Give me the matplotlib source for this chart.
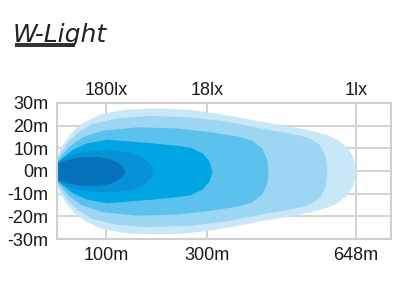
import numpy as np
import matplotlib
matplotlib.use("Agg")
import matplotlib.pyplot as plt
from matplotlib.patches import Rectangle

plt.rcParams['font.family'] = ['Liberation Sans', 'DejaVu Sans']

# distances along the beam (chart units) and half widths in metres
tick_pos = [49, 150, 299]
bottom_labels = ['100m', '300m', '648m']
top_labels = ['180lx', '18lx', '1lx']
y_ticks = [30, 20, 10, 0, -10, -20, -30]

# isolux outlines, outer -> inner
l1_x = [0, 3, 8, 16, 28, 45, 70, 100, 130, 150, 180, 203, 230, 253, 270, 280, 290, 296, 299]
l1_h = [6.5, 10, 13.5, 18, 22, 25.5, 27.3, 27.8, 27.3, 26.2, 24, 22, 20, 18, 16, 14, 10.5, 6, 0]
l2_x = [0, 3, 10, 20, 35, 60, 90, 130, 170, 203, 230, 250, 262, 268, 270]
l2_h = [5.5, 8, 12.5, 17, 21, 23.5, 24.5, 24, 22, 19, 17, 15, 12, 7, 0]
l3_x = [0, 4, 12, 25, 45, 80, 120, 150, 180, 195, 205, 210, 211]
l3_h = [4.5, 7, 11, 15, 18, 19.5, 19, 17.5, 15.5, 13.5, 10, 5, 0]
l4_x = [0, 5, 15, 30, 50, 93, 120, 133, 145, 152, 155]
l4_h = [4, 6, 9.5, 12.5, 14, 12.5, 11.3, 10.5, 8, 4.5, 0]
l5_x = [0, 5, 15, 35, 55, 75, 88, 94, 96]
l5_h = [3.8, 5.5, 7.5, 9, 9.3, 8.3, 5.5, 2.5, 0]
l6_x = [0, 4, 12, 22, 40, 52, 60, 65, 68]
l6_h = [3.5, 4.2, 5.3, 6.2, 6.4, 5.5, 4, 2.5, 0]

layers = [(l1_x, l1_h, '#c8e7f8'), (l2_x, l2_h, '#9dd6f3'), (l3_x, l3_h, '#5cc1ed'),
          (l4_x, l4_h, '#00a6e4'), (l5_x, l5_h, '#0792d5'), (l6_x, l6_h, '#0672b9')]

fig = plt.figure(figsize=(4, 3), dpi=100)
ax = fig.add_axes([57/400, 1-239/300, 334/400, 136/300])

ax.set_xlim(0, 334)
ax.set_ylim(-30, 30)

for xs, hs, c in layers:
    xs = np.array(xs)
    hs = np.array(hs)
    ax.fill_between(xs, -hs, hs, color=c, lw=0, zorder=2)

ax.set_yticks(y_ticks)
ax.set_yticklabels([f'{v}m' for v in y_ticks])
ax.set_xticks(tick_pos)
ax.set_xticklabels(bottom_labels)
ax.grid(True, color='#d4d4d4', lw=1.5, zorder=1)
ax.set_axisbelow(True)
ax.tick_params(length=0, labelsize=13, colors='#1a1a1a')
ax.tick_params(axis='x', pad=6)
ax.tick_params(axis='y', pad=6)
for s in ax.spines.values():
    s.set_color('#cfcfcf')
    s.set_linewidth(1.5)

ax2 = ax.twiny()
ax2.set_xlim(0, 334)
ax2.set_xticks(tick_pos)
ax2.set_xticklabels(top_labels)
ax2.tick_params(length=0, labelsize=13, colors='#1a1a1a', pad=3)
for s in ax2.spines.values():
    s.set_visible(False)

# logo
fig.text(13/400, 1-42/300, 'W-Light', fontsize=18, style='italic',
         family='DejaVu Sans', color='#222222', va='baseline')
fig.add_artist(Rectangle((15/400, 1-47/300), 60/400, 4/300,
                         transform=fig.transFigure, color='#333333', lw=0))

fig.savefig('out.png', dpi=100)
